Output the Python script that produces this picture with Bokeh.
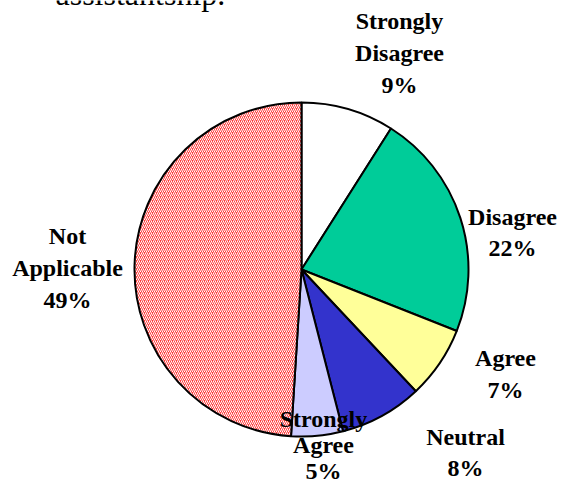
from bokeh.plotting import figure
from bokeh.models import Range1d, ColumnDataSource
from bokeh.core.properties import value
from bokeh.embed import file_html
from bokeh.resources import INLINE
import numpy as np

# ---- data (clockwise from 12 o'clock) ----
categories = ["Strongly Disagree", "Disagree", "Agree", "Neutral", "Strongly Agree", "Not Applicable"]
percents = [9, 22, 7, 8, 5, 49]
colors = ["#FFFFFF", "#00CC99", "#FFFF99", "#3333CC", "#CCCCFF", "#FF4040"]
hatches = [" ", " ", " ", " ", " ", "right_diagonal_line"]
label_lines = [["Strongly", "Disagree"], ["Disagree"], ["Agree"], ["Neutral"],
               ["Strongly", "Agree"], ["Not", "Applicable"]]
title_text = "assistantship."

# ---- layout (picture pixel coordinates) ----
W, H = 561, 486
CX, CY, R = 301, 269, 167
label_pos = [(399, 20), (512, 216), (505, 357), (465, 436), (323, 418), (67, 235)]
line_h = [32, 31, 32, 31, 26, 32]
FONT = value("'Liberation Serif', 'Times New Roman', serif")

p = figure(width=W, height=H, x_range=Range1d(0, W), y_range=Range1d(-H, 0),
           output_backend="svg", toolbar_location=None, min_border=0,
           x_axis_location=None, y_axis_location=None)
p.grid.visible = False
p.outline_line_color = None

vals = np.array(percents, dtype=float)
frac = vals / vals.sum()
cum = np.concatenate([[0], np.cumsum(frac)])
start = np.pi / 2 - 2 * np.pi * cum[:-1]
end = np.pi / 2 - 2 * np.pi * cum[1:]

src = ColumnDataSource(dict(start=start, end=end, color=colors, hatch=hatches,
                            cat=categories))
p.wedge(x=CX, y=-CY, radius=R, start_angle="start", end_angle="end", direction="clock",
        fill_color="color", line_color="black", line_width=2,
        hatch_pattern="hatch", hatch_color="white", hatch_scale=4, hatch_weight=1,
        source=src)

tx, ty, tt = [], [], []
for (x0, y0), lines, pc, lh in zip(label_pos, label_lines, percents, line_h):
    allines = lines + [f"{pc}%"]
    for i, ln in enumerate(allines):
        tx.append(x0)
        ty.append(-(y0 + i * lh))
        tt.append(ln)
p.text(x=tx, y=ty, text=tt, text_align="center", text_baseline="middle",
       text_font=FONT, text_font_style="bold",
       text_font_size="24px", text_color="black")

p.text(x=[55], y=[7], text=[title_text], text_align="left", text_baseline="alphabetic",
       text_font=FONT, text_font_size="32px", text_color="black")

open("out.html", "w").write(file_html(p, INLINE))
